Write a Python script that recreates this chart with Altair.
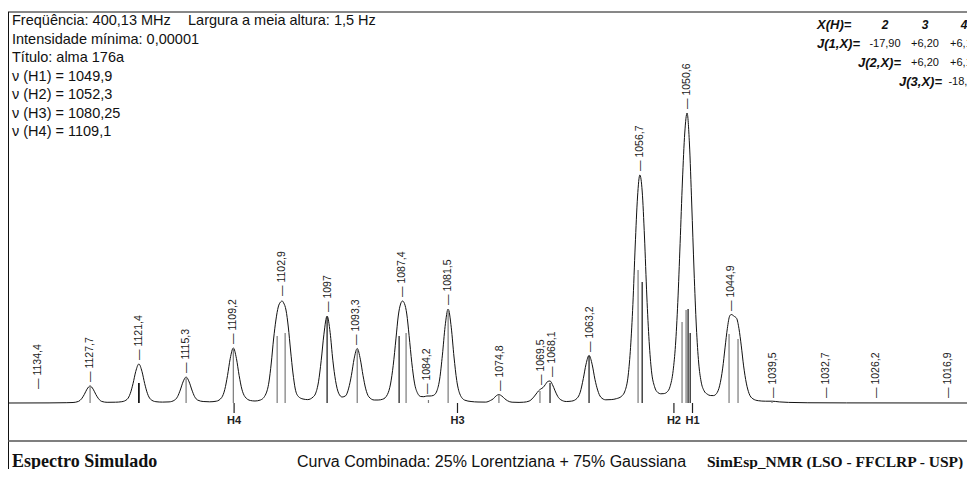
import altair as alt
import pandas as pd

# ---------------- data ----------------
# simulated envelope (Hz, intensity in arbitrary units)
curve_hz = [1138.3, 1133.0, 1130.7, 1129.9, 1129.2, 1128.8, 1128.45, 1128.1, 1127.7, 1127.3, 1126.95, 1126.6, 1126.2, 1125.5,
            1124.4, 1123.6, 1122.9, 1122.5, 1122.15, 1121.8, 1121.4, 1121.0, 1120.65, 1120.3, 1119.9, 1119.2, 1118.35,
            1117.5, 1116.8, 1116.4, 1116.05, 1115.7, 1115.3, 1114.9, 1114.55, 1114.2, 1113.8, 1113.1, 1112.25,
            1111.4, 1110.7, 1110.3, 1109.95, 1109.6, 1109.2, 1108.8, 1108.45, 1108.1, 1107.7, 1107.0, 1106.4,
            1105.7, 1105.0, 1104.6, 1104.3, 1104.0, 1103.7, 1103.4, 1103.1, 1102.9, 1102.7, 1102.4, 1102.1, 1101.8,
            1101.5, 1101.2, 1100.8, 1100.2, 1099.6, 1098.9, 1098.6, 1098.2, 1097.85, 1097.5, 1097.09, 1096.7, 1096.35,
            1096.0, 1095.6, 1095.15, 1094.7, 1094.3, 1093.95, 1093.6, 1093.2, 1092.8, 1092.45, 1092.1, 1091.7,
            1091.0, 1090.5, 1089.9, 1089.3, 1088.9, 1088.55, 1088.2, 1087.9, 1087.6, 1087.35, 1087.1, 1086.8,
            1086.5, 1086.15, 1085.8, 1085.4, 1085.0, 1084.6, 1084.2, 1083.8, 1083.4, 1083.2, 1082.9, 1082.55,
            1082.2, 1081.85, 1081.46, 1081.05, 1080.7, 1080.35, 1079.95, 1079.3, 1078.5, 1077.6, 1076.6, 1076.0,
            1075.6, 1075.3, 1074.9, 1074.5, 1074.15, 1073.8, 1073.2, 1072.3, 1071.7, 1071.0, 1070.5, 1070.1,
            1069.8, 1069.5, 1069.2, 1068.9, 1068.6, 1068.3, 1068.0, 1067.65, 1067.3, 1066.9, 1066.2, 1065.5,
            1064.8, 1064.4, 1064.0, 1063.65, 1063.26, 1062.85, 1062.5, 1062.15, 1061.75, 1061.1, 1060.4, 1059.7,
            1059.1, 1058.6, 1058.2, 1057.9, 1057.6, 1057.3, 1057.0, 1056.7, 1056.4, 1056.1, 1055.8, 1055.5,
            1055.2, 1054.8, 1054.4, 1054.0, 1053.6, 1053.2, 1052.8, 1052.4, 1052.1, 1051.8, 1051.5, 1051.2,
            1050.9, 1050.6, 1050.3, 1050.0, 1049.7, 1049.4, 1049.1, 1048.8, 1048.4, 1048.0, 1047.6, 1047.2,
            1046.8, 1046.4, 1046.0, 1045.7, 1045.4, 1045.1, 1044.9, 1044.5, 1044.2, 1043.9, 1043.6, 1043.3,
            1042.95, 1042.6, 1042.1, 1041.4, 1040.5, 1039.6, 1038.7, 1037.5, 1035.0, 1030.0, 1014.45]
curve_int = [0, 0.1, 0.3, 0.5, 1.6, 4.2, 8.5, 13.8, 17, 13.8, 8.5, 4.2, 1.6, 0.7,
             0.8, 1.3, 3.8, 9.7, 19.5, 31.6, 39, 31.6, 19.5, 9.7, 3.8, 1.3, 0.9,
             1.1, 2.8, 6.4, 13, 21, 26, 21, 13, 6.4, 2.9, 1.5, 1.2,
             1.8, 5.5, 13.6, 27.5, 44.5, 55, 44.5, 27.5, 13.9, 6.3, 2.5, 2.0,
             3.0, 9, 21, 40, 64, 83, 96, 101, 102, 100, 93, 76, 52,
             30, 14, 6.5, 4.0, 3.4, 6.0, 9.1, 21.2, 42.6, 68.8, 87, 70.6, 42.8,
             22.4, 9.8, 6.0, 7.2, 14.9, 27.7, 44.2, 54.5, 43.8, 27.5, 14.1, 6.2,
             3.0, 3.0, 3.8, 8.5, 19, 37.7, 64.1, 87, 99, 102, 99.5, 89,
             67.4, 40.2, 19.9, 9.7, 6.5, 6.3, 7.0, 7.0, 7.5, 8.4, 12.3, 24,
             47.9, 76.6, 94, 75.2, 46, 22.6, 9.1, 2.8, 1.5, 1.0, 0.9, 2.5,
             4.4, 6.9, 8.4, 6.8, 4.3, 2.3, 0.8, 0.6, 0.8, 1.9, 5.1, 9.0,
             12, 14, 15.5, 18.5, 21.5, 22, 18.6, 12.2, 6.5, 3.2, 1.5, 1.9,
             4.8, 10.8, 24.5, 38.8, 47.6, 38.2, 23.7, 12.9, 5.9, 3.2, 3.4, 4.4,
             6.5, 12.4, 28, 55.6, 98.5, 157, 206, 228, 212, 166, 107, 61.5,
             32.2, 16.3, 10.6, 9.2, 9.4, 10.9, 16.4, 32.4, 57.6, 100.5, 159.6, 222,
             270, 290, 260, 199, 132, 76, 40, 21.9, 12.1, 8.9, 7.5, 7.4,
             9.4, 17.2, 34.9, 55.1, 74.6, 87, 88.5, 86.6, 84.6, 74.4, 57.1, 37.1,
             19.9, 9.6, 4.2, 2.3, 1.8, 1.8, 1.1, 0.6, 0.25, 0.1, 0]

# individual transitions (sticks)
stick_hz = [1127.7, 1121.43, 1121.37, 1115.3, 1109.2, 1103.54, 1102.51, 1097.09, 1093.2, 1087.79, 1086.89,
            1084.0, 1081.46, 1074.9, 1069.6, 1068.3, 1063.26, 1056.93, 1056.4, 1051.25, 1050.73, 1050.47,
            1050.2, 1045.18, 1044.02, 1039.63]
stick_int = [17, 20, 20, 26, 55, 67, 70, 86, 54, 67, 70,
             3, 94, 8, 12, 20, 47, 133, 121, 81, 93, 94,
             70, 69, 64, 2]
stick_kind = ["cinza", "preto", "preto", "cinza", "cinza", "cinza", "cinza", "preto", "cinza", "preto", "cinza",
              "cinza", "cinza", "cinza", "cinza", "preto", "preto", "cinza", "preto", "cinza", "cinza", "preto",
              "preto", "cinza", "cinza", "cinza"]

# peak labels
label_text = ["1134,4", "1127,7", "1121,4", "1115,3", "1109,2", "1102,9", "1097", "1093,3", "1087,4", "1084,2",
              "1081,5", "1074,8", "1069,5", "1068,1", "1063,2", "1056,7", "1050,6", "1044,9", "1039,5",
              "1032,7", "1026,2", "1016,9"]
label_hz = [1134.4, 1127.7, 1121.4, 1115.3, 1109.2, 1102.9, 1097.0, 1093.3, 1087.4, 1084.2,
            1081.5, 1074.8, 1069.5, 1068.1, 1063.2, 1056.7, 1050.6, 1044.9, 1039.5,
            1032.7, 1026.2, 1016.9]
label_int = [10, 17, 39, 26, 55, 103, 87, 54, 102, 5,
             94, 8, 14, 22, 47, 228, 290, 88, 1,
             1, 1, 1]

# chemical shift markers
marker_text = ["H4", "H3", "H2", "H1"]
marker_hz = [1109.1, 1080.25, 1052.3, 1049.9]

header_first = "Freqüência: 400,13 MHz"
header_width = "Largura a meia altura: 1,5 Hz"
header_lines = ["Intensidade mínima: 0,00001", "Título: alma 176a",
                "ν (H1) = 1049,9", "ν (H2) = 1052,3", "ν (H3) = 1080,25", "ν (H4) = 1109,1"]

j_cols = ["2", "3", "4"]
j_rows = ["J(1,X)=", "J(2,X)=", "J(3,X)="]
j_values = [["-17,90", "+6,20", "+6,10"], ["+6,20", "+6,10"], ["-18,80"]]

footer_left = "Espectro Simulado"
footer_mid = "Curva Combinada: 25% Lorentziana + 75% Gaussiana"
footer_right = "SimEsp_NMR (LSO - FFCLRP - USP)"

# ---------------- chart ----------------
W, H = 959, 461
SANS = "Liberation Sans"
SERIF = "Liberation Serif"

xs = alt.Scale(domain=[1014.45, 1138.3], reverse=True, nice=False, zero=False)
ys = alt.Scale(domain=[-66, 395], nice=False, zero=False)

curve_df = pd.DataFrame({"hz": curve_hz, "i": curve_int})
stick_df = pd.DataFrame({"hz": stick_hz, "i": stick_int, "kind": stick_kind})
label_df = pd.DataFrame({"hz": label_hz, "i": label_int, "t": ["— " + t for t in label_text]})
marker_df = pd.DataFrame({"hz": marker_hz, "t": marker_text})
one_row = pd.DataFrame({"k": [0]})

X = alt.X("hz:Q", scale=xs, axis=None)

curve = alt.Chart(curve_df).mark_line(color="#111111", strokeWidth=1, interpolate="monotone").encode(
    x=X, y=alt.Y("i:Q", scale=ys, axis=None), order="hz:Q")

sticks = alt.Chart(stick_df).mark_rule(strokeWidth=1.2).encode(
    x=X, y=alt.Y("i:Q", scale=ys, axis=None), y2=alt.datum(0),
    color=alt.Color("kind:N", scale=alt.Scale(domain=["preto", "cinza"], range=["#151515", "#7a7a7a"]), legend=None))

labels = alt.Chart(label_df).mark_text(angle=270, align="left", baseline="middle", dx=4,
                                       font=SANS, fontSize=10.5, color="#1a1a1a").encode(
    x=X, y=alt.Y("i:Q", scale=ys, axis=None), text="t:N")

mticks = alt.Chart(marker_df).mark_rule(color="#222222", strokeWidth=1.2).encode(
    x=X, y=alt.datum(0, scale=ys), y2=alt.datum(-10))
mtext = alt.Chart(marker_df).mark_text(align="center", baseline="middle", font=SANS, fontSize=11,
                                       fontWeight="bold", color="#222222").encode(
    x=X, y=alt.datum(-18, scale=ys), text="t:N")

def fixed_text(txt, x, y, size=14.5, font=SANS, weight="normal", style="normal", align="left"):
    return alt.Chart(one_row).mark_text(align=align, baseline="middle", font=font, fontSize=size,
                                        fontWeight=weight, fontStyle=style, color="#111111").encode(
        x=alt.value(x), y=alt.value(y), text=alt.value(txt))

def fixed_rule(x1, y1, x2, y2, color="#111111", w=1):
    return alt.Chart(one_row).mark_rule(color=color, strokeWidth=w).encode(
        x=alt.value(x1), y=alt.value(y1), x2=alt.value(x2), y2=alt.value(y2))

layers = [
    fixed_rule(0, 4, W, 4),
    fixed_rule(0.5, 4, 0.5, H),
    fixed_rule(0, 433, W, 433, color="#555555", w=1.5),
    curve, sticks, labels, mticks, mtext,
]

texts = [fixed_text(header_first, 4, 13), fixed_text(header_width, 180, 13)]
for k, line in enumerate(header_lines):
    texts.append(fixed_text(line, 4, 31.5 + 18.5 * k))

# coupling-constant table
texts.append(fixed_text("X(H)=", 809, 16.5, size=13, weight="bold", style="italic"))
col_x = [877, 917, 956]
for c, cx in zip(j_cols, col_x):
    texts.append(fixed_text(c, cx, 16.5, size=12, weight="bold", style="italic", align="center"))
row_x = [809, 850, 891]
for r, (lab, vals) in enumerate(zip(j_rows, j_values)):
    yy = 35.5 + 19 * r
    texts.append(fixed_text(lab, row_x[r], yy, size=13, weight="bold", style="italic"))
    for v, cx in zip(vals, col_x[r:]):
        texts.append(fixed_text(v, cx, yy, size=11, align="center"))

texts.append(fixed_text(footer_left, 4, 454, size=18, font=SERIF, weight="bold"))
texts.append(fixed_text(footer_mid, 289, 454, size=16))
texts.append(fixed_text(footer_right, 699, 454, size=15.5, font=SERIF, weight="bold"))

chart = alt.layer(*(layers + texts)).properties(
    width=W, height=H, padding=0, autosize=alt.AutoSizeParams(type="none")
).configure_view(stroke=None)

chart.save("out.html", embed_options={"renderer": "svg", "actions": False})
